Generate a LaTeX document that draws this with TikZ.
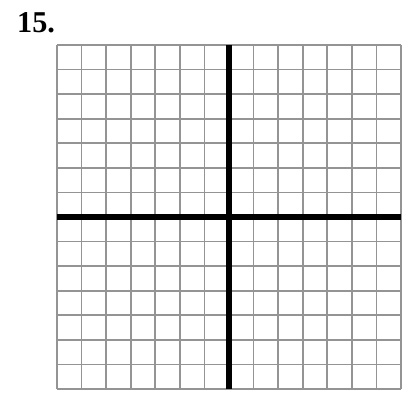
\documentclass[tikz,border=0pt]{standalone}
\usepackage{fontspec}
\setmainfont{Liberation Serif}
\usetikzlibrary{positioning}

\begin{document}
\begin{tikzpicture}[x=0.6cm, y=0.6cm]

\useasboundingbox (-2.32, -0.16) rectangle (14.12, 15.83);

% Problem number
\node[anchor=base west, inner sep=0pt, font=\fontsize{21}{24}\selectfont\bfseries] (num) at (-1.63, 14.49) {15.};

% Grid
\draw[line width=1.2pt, color=black!42, step=0.6cm] (0, 0) grid (14, 14);

% Axes
\draw[line width=3.8pt, line cap=butt] (0, 7) -- (14, 7);
\draw[line width=3.6pt, line cap=butt] (7, 0) -- (7, 14);

\end{tikzpicture}
\end{document}
